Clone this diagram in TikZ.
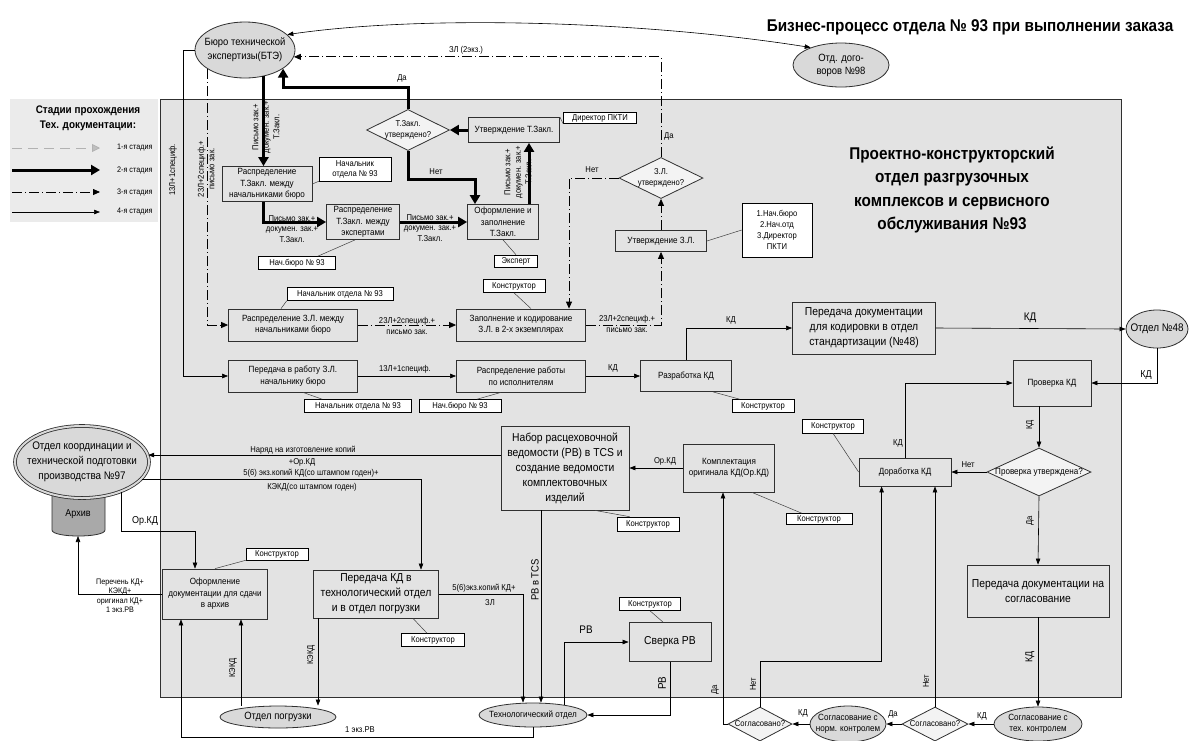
\documentclass[tikz,border=0pt]{standalone}
\usepackage{fontspec}
\setmainfont{Liberation Sans}[FakeStretch=0.9]
\usetikzlibrary{arrows.meta,shapes.geometric,calc}
\definecolor{bg}{HTML}{E3E3E3}
\definecolor{legbg}{HTML}{EBEBEB}
\definecolor{ellf}{HTML}{D9D9D9}
\definecolor{edge}{HTML}{303030}
\definecolor{archf}{HTML}{A9A9A9}
\definecolor{decf}{HTML}{F3F3F3}
\newcommand{\myfs}[2]{\fontsize{#1}{#2}\selectfont}
\tikzset{
  box/.style={draw=edge, fill=bg, line width=0.8pt, align=center, inner sep=1pt, font=\myfs{9}{11.5}},
  bigbox/.style={box, font=\myfs{11.5}{15}},
  lab/.style={draw=black, fill=white, line width=0.6pt, inner sep=1pt, align=center, font=\myfs{8.5}{10},
     path picture={\draw[line width=1.5pt] (path picture bounding box.north west) -- (path picture bounding box.north east);}},
  dec/.style={diamond, draw=edge, fill=decf, line width=0.8pt, inner sep=0pt},
  ell/.style={ellipse, draw=edge, fill=ellf, line width=0.8pt, inner sep=0pt},
  intext/.style n args={3}{label={[align=center,inner sep=0pt,font=\myfs{#1}{#2}]center:{#3}}},
  a4/.style={draw=black, line width=0.6pt, -{Triangle[length=6pt,width=4.5pt]}},
  a2/.style={draw=black, line width=3pt, -{Triangle[length=9pt,width=10pt]}},
  a3/.style={draw=black, line width=0.8pt, dash pattern=on 10pt off 3pt on 1pt off 3pt, -{Triangle[length=7pt,width=6pt]}},
  a1/.style={draw=gray!60, line width=0.8pt, dash pattern=on 10pt off 6pt, -{Triangle[length=8pt,width=8pt,fill=gray!50]}},
  conn/.style={draw=black!75, line width=0.5pt},
  al/.style={font=\myfs{8.5}{10.5}, align=center, inner sep=0pt},
}
\begin{document}
\begin{tikzpicture}[x=1pt,y=-1pt]
\useasboundingbox (0,0) rectangle (1190,740);
\fill[white] (0,0) rectangle (1190,740);
% department area
\draw[fill=bg, draw=edge, line width=0.8pt] (160,99) rectangle (1121,697);
% legend
\fill[legbg] (10,99) rectangle (158,222);
\node[font=\bfseries\myfs{11}{15}, align=center] (legt) at (88,118) {Стадии прохождения\\Тех. документации:};
\coordinate (l1a) at (12,148); \coordinate (l1b) at (100,148);
\coordinate (l2a) at (12,170); \coordinate (l2b) at (100,170);
\coordinate (l3a) at (12,192); \coordinate (l3b) at (100,192);
\coordinate (l4a) at (12,212); \coordinate (l4b) at (100,212);
\draw[a1] (l1a) -- (l1b);
\draw[a2] (l2a) -- (l2b);
\draw[a3] (l3a) -- (l3b);
\draw[a4] (l4a) -- (l4b);
\node[al, font=\myfs{8}{10}, anchor=west] (lt1) at (117,148) {1-я стадия};
\node[al, font=\myfs{8}{10}, anchor=west] (lt2) at (117,170) {2-я стадия};
\node[al, font=\myfs{8}{10}, anchor=west] (lt3) at (117,192) {3-я стадия};
\node[al, font=\myfs{8}{10}, anchor=west] (lt4) at (117,212) {4-я стадия};
% titles
\node[font=\bfseries\myfs{17}{20}] (title) at (970,27) {Бизнес-процесс отдела № 93 при выполнении заказа};
\node[font=\bfseries\myfs{17}{23.5}, align=center] (dept) at (952,190) {Проектно-конструкторский\\отдел разгрузочных\\комплексов и сервисного\\обслуживания №93};
% archive
\draw[fill=archf, draw=edge, line width=0.8pt] (52,490) -- (52,530) .. controls (52,538) and (105,538) .. (105,530) -- (105,490);
\node[font=\myfs{10}{12}] (arch) at (78,514) {Архив};
\coordinate (archb) at (78,536);
% nodes
\node[ell, minimum width=100, minimum height=56, intext={10.5}{14}{Бюро технической\\экспертизы(БТЭ)}] (btz) at (245,50) {};
\node[ell, minimum width=96, minimum height=44, intext={10.5}{13}{Отд. дого-\\воров №98}] (dog) at (841,65) {};
\node[dec, minimum width=83, minimum height=41, intext={8.5}{11}{Т.Закл.\\утверждено?}] (tzok) at (408,130) {};
\node[box, minimum width=91, minimum height=25] (utz) at (514,130) {Утверждение Т.Закл.};
\node[lab, minimum width=73, minimum height=11] (dirp) at (600,118) {Директор ПКТИ};
\node[box, minimum width=71, minimum height=35] (oform) at (503,222) {Оформление и\\заполнение\\Т.Закл.};
\node[lab, minimum width=43, minimum height=12] (expert) at (516,261) {Эксперт};
\node[box, minimum width=90, minimum height=35] (rtz) at (267,184) {Распределение\\Т.Закл. между\\начальниками бюро};
\node[lab, minimum width=72, minimum height=24] (nach1) at (355,169) {Начальник\\отдела № 93};
\node[box, minimum width=73, minimum height=35] (rte) at (363,222) {Распределение\\Т.Закл. между\\экспертами};
\node[lab, minimum width=77, minimum height=13] (nb1) at (297,263) {Нач.бюро № 93};
\node[box, minimum width=129, minimum height=32] (rzl) at (293,325) {Распределение З.Л. между\\начальниками бюро};
\node[lab, minimum width=106, minimum height=13] (nach2) at (340,294) {Начальник отдела № 93};
\node[box, minimum width=129, minimum height=32] (zap) at (521,325) {Заполнение и кодирование\\З.Л. в 2-х экземплярах};
\node[lab, minimum width=62, minimum height=13] (kon1) at (514,286) {Конструктор};
\node[dec, minimum width=84, minimum height=41, intext={8.5}{11}{З.Л.\\утверждено?}] (zlok) at (661,178) {};
\node[box, minimum width=91, minimum height=21] (uzl) at (661,241) {Утверждение З.Л.};
\node[lab, minimum width=70, minimum height=54, font=\myfs{8.5}{11}] (l3) at (777,230) {1.Нач.бюро\\2.Нач.отд\\3.Директор\\ПКТИ};
\node[box, minimum width=129, minimum height=32] (pzl) at (293,376) {Передача в работу З.Л.\\начальнику бюро};
\node[lab, minimum width=107, minimum height=13] (nach3) at (358,406) {Начальник отдела № 93};
\node[box, minimum width=129, minimum height=32] (rrab) at (521,376) {Распределение работы\\по исполнителям};
\node[lab, minimum width=82, minimum height=13] (nb2) at (460,406) {Нач.бюро № 93};
\node[box, minimum width=91, minimum height=31] (rkd) at (686,376) {Разработка КД};
\node[lab, minimum width=62, minimum height=13] (kon2) at (763,406) {Конструктор};
\node[bigbox, minimum width=143, minimum height=52] (pdk) at (864,328) {Передача документации\\для кодировки в отдел\\стандартизации (№48)};
\node[ell, minimum width=62, minimum height=38, intext={11}{13}{Отдел №48}] (o48) at (1157,329) {};
\node[box, minimum width=78, minimum height=46] (pkd) at (1052,383) {Проверка КД};
\node[dec, minimum width=104, minimum height=48, intext={9}{11}{Проверка утверждена?}] (pkok) at (1039,472) {};
\node[box, minimum width=92, minimum height=28] (dkd) at (905,472) {Доработка КД};
\node[lab, minimum width=61, minimum height=14] (kon3) at (833,426) {Конструктор};
\node[bigbox, minimum width=142, minimum height=52] (psog) at (1038,591) {Передача документации на\\согласование};
\node[ell, minimum width=88, minimum height=34, intext={9}{11.5}{Согласование с\\тех. контролем}] (stech) at (1038,724) {};
\node[dec, minimum width=66, minimum height=34, intext={8.5}{10}{Согласовано?}] (sog2) at (935,724) {};
\node[ell, minimum width=76, minimum height=36, intext={9}{11.5}{Согласование с\\норм. контролем}] (snorm) at (848,724) {};
\node[dec, minimum width=64, minimum height=34, intext={8.5}{10}{Согласовано?}] (sog1) at (760,724) {};
\node[box, minimum width=91, minimum height=48] (kompl) at (729,468) {Комплектация\\оригинала КД(Ор.КД)};
\node[lab, minimum width=66, minimum height=11] (kon4) at (819,519) {Конструктор};
\node[bigbox, minimum width=128, minimum height=84] (nabor) at (565,468) {Набор расцеховочной\\ведомости (РВ) в TCS и\\создание ведомости\\комплектовочных\\изделий};
\node[lab, minimum width=62, minimum height=14] (kon5) at (648,524) {Конструктор};
\node[ell, minimum width=108, minimum height=24, intext={9}{11}{Технологический отдел}] (tech) at (533,715) {};
\node[ell, minimum width=134, minimum height=72, double=ellf, double distance=2pt, intext={11}{15}{Отдел координации и\\технической подготовки\\производства №97}] (okp) at (82,462) {};
\node[box, minimum width=105, minimum height=50] (oarch) at (215,594) {Оформление\\документации для сдачи\\в архив};
\node[lab, minimum width=62, minimum height=12] (kon6) at (277,554) {Конструктор};
\node[bigbox, minimum width=125, minimum height=48] (pkdt) at (376,594) {Передача КД в\\технологический отдел\\и в отдел погрузки};
\node[lab, minimum width=63, minimum height=13] (kon7) at (433,640) {Конструктор};
\node[ell, minimum width=116, minimum height=22, intext={10.5}{12}{Отдел погрузки}] (pogr) at (278,717) {};
\node[bigbox, minimum width=82, minimum height=39] (sverka) at (670,642) {Сверка РВ};
\node[lab, minimum width=61, minimum height=13] (kon8) at (650,604) {Конструктор};
% helper coordinates
\coordinate (kx) at ($(oarch.south)+(26,0)$);
\coordinate (ox2) at ($(oarch.south)+(-34,0)$);
\coordinate (px1) at ($(pkdt.south)+(-58,0)$);
\coordinate (tx1) at ($(tech.north)+(-10,0)$);
\coordinate (tx2) at ($(tech.north)+(8,0)$);
\coordinate (oxr) at ($(oarch.north)+(-20,0)$);
\coordinate (pkx) at ($(pkdt.north)+(45,0)$);
\coordinate (dkx) at ($(dkd.south west)+(23,0)$);
\coordinate (kmx) at ($(kompl.south)+(-6,0)$);
\coordinate (ofx) at ($(oform.north)+(-28,0)$);
\coordinate (ofx2) at ($(oform.north)+(26,0)$);
\coordinate (zpx) at ($(zap.north)+(48,0)$);
\coordinate (rtx) at ($(rtz.south)+(-4,0)$);
\coordinate (pzx) at ($(pzl.west)+(-45,0)$);
% connectors
\draw[line width=0.6pt, {Triangle[length=6pt,width=4.5pt]}-{Triangle[length=6pt,width=4.5pt]}] (btz.20) .. controls (430,14) and (650,22) .. (dog.150);
\draw[a3] (zlok.north) |- (btz.-8);
\draw[a2] (tzok.north) -- (tzok.north |- 0,87) -| (btz.-26);
\draw[a2] (utz.west) -- (tzok.east);
\draw[a2] (tzok.south) -- (tzok.south |- 0,179) -| (ofx);
\draw[a2] (ofx2) -- (ofx2 |- utz.south);
\draw[a2] (btz.-55) -- (btz.-55 |- rtz.north);
\draw[a2] (rtx) |- (rte.west);
\draw[a2] (rte.east) -- (oform.west);
\draw[a3] (btz.-153) |- (rzl.west);
\draw[a4] (btz.west) -| (pzx) -- (pzl.west);
\draw[a3] (rzl.east) -- (zap.west);
\draw[a3] (zlok.west) -| (zpx);
\draw[a3] (uzl.north) -- (zlok.south);
\draw[a3] (zap.east) -| (uzl.south);
\draw[a4] (pzl.east) -- (rrab.west);
\draw[a4] (rrab.east) -- (rkd.west);
\draw[a4] (rkd.north) |- (pdk.west);
\draw[a4] (pdk.east) -- (o48.west);
\draw[a4] (o48.south) |- (pkd.east);
\draw[a4] (pkok.north |- pkd.south) -- (pkok.north);
\draw[a4] (pkok.west) -- (dkd.east);
\draw[a4] (dkd.north) |- (pkd.west);
\draw[a4] (pkok.south) -- (psog.north);
\draw[a4] (psog.south) -- (stech.north);
\draw[a4] (stech.west) -- (sog2.east);
\draw[a4] (sog2.north) -- (sog2.north |- dkd.south);
\draw[a4] (sog2.west) -- (snorm.east);
\draw[a4] (snorm.west) -- (sog1.east);
\draw[a4] (sog1.north) -- (sog1.north |- 0,661) -| (dkx);
\draw[a4] (sog1.west) -| (kmx);
\draw[a4] (kompl.west) -- (nabor.east);
\draw[a4] (nabor.west |- okp.6) -- (okp.6);
\draw[a4] (okp.-16) -| (pkx);
\draw[a4] (okp.-37) -- (okp.-37 |- 0,531) -| (oxr);
\draw[a4] (oarch.west) -| (archb);
\draw[a4] (kx |- pogr.north) -- (kx);
\draw[a4] (tech.south) -- (tech.south |- 0,737) -| (ox2);
\draw[a4] (px1) -- (px1 |- pogr.north);
\draw[a4] (pkdt.east) -| (tx1);
\draw[a4] (tx2 |- nabor.south) -- (tx2);
\draw[a4] (tech.18) |- (sverka.west);
\draw[a4] (sverka.south) |- (tech.east);
% label connectors
\draw[conn] (utz.north east) -- (dirp.south west);
\draw[conn] (rtz.east) -- (nach1.south west);
\draw[conn] ($(rte.south)+(-8,0)$) -- ($(nb1.north east)+(-18,0)$);
\draw[conn] (oform.south) -- (expert.north);
\draw[conn] (nach2.south west) -- ($(rzl.north)+(-12,0)$);
\draw[conn] (kon1.south) -- ($(zap.north)+(10,0)$);
\draw[conn] (uzl.east) -- (l3.west);
\draw[conn] ($(pzl.south)+(10,0)$) -- ($(nach3.north west)+(18,0)$);
\draw[conn] ($(rrab.south)+(-20,0)$) -- ($(nb2.north)+(17,0)$);
\draw[conn] ($(rkd.south)+(27,0)$) -- ($(kon2.north west)+(8,0)$);
\draw[conn] (kon3.south) -- (dkd.west);
\draw[conn] ($(kompl.south)+(23,0)$) -- ($(kon4.north west)+(16,0)$);
\draw[conn] ($(nabor.south)+(30,0)$) -- ($(kon5.north west)+(13,0)$);
\draw[conn] (oarch.north) -- (kon6.south west);
\draw[conn] ($(pkdt.south)+(37,0)$) -- ($(kon7.north)+(-6,0)$);
\draw[conn] (kon8.south) -- ($(sverka.north)+(-7,0)$);
% connector labels
\node[al] (tzl2) at (466,50) {ЗЛ (2экз.)};
\node[al] (tda1) at (402,78) {Да};
\node[al, anchor=west] (tda2) at (664,136) {Да};
\node[al] (tnet1) at (436,172) {Нет};
\node[al, rotate=90] (tpis1) at (518,172) {Письмо зак.+\\докумен. зак.+\\Т.Закл.};
\node[al, rotate=90] (tpis2) at (266,127) {Письмо зак.+\\докумен. зак.+\\Т.Закл.};
\node[al] (tpis3) at (292,229) {Письмо зак.+\\докумен. зак.+\\Т.Закл.};
\node[al] (tpis4) at (430,228) {Письмо зак.+\\докумен. зак.+\\Т.Закл.};
\node[al, rotate=90] (t13a) at (173,170) {13Л+1специф.};
\node[al, rotate=90] (t23a) at (206,169) {23Л+2специф.+\\письмо зак.};
\node[al] (t23b) at (407,326) {23Л+2специф.+\\письмо зак.};
\node[al] (t23c) at (627,324) {23Л+2специф.+\\письмо зак.};
\node[al] (tnet2) at (592,170) {Нет};
\node[al] (t13b) at (405,369) {13Л+1специф.};
\node[al] (tkd1) at (613,368) {КД};
\node[al] (tkd2) at (731,320) {КД};
\node[al, font=\myfs{11}{13}] (tkd3) at (1030,318) {КД};
\node[al, font=\myfs{10}{12}] (tkd4) at (1146,375) {КД};
\node[al, rotate=90] (tkd5) at (1030,425) {КД};
\node[al] (tnet3) at (968,465) {Нет};
\node[al] (tkd6) at (898,443) {КД};
\node[al, rotate=90] (tda3) at (1030,521) {Да};
\node[al, rotate=90, font=\myfs{10}{12}] (tkd7) at (1030,657) {КД};
\node[al] (tkd8) at (982,716) {КД};
\node[al, rotate=90] (tnet4) at (926,681) {Нет};
\node[al] (tda4) at (893,714) {Да};
\node[al] (tkd9) at (803,713) {КД};
\node[al, rotate=90] (tnet5) at (753,684) {Нет};
\node[al, rotate=90] (tda5) at (715,690) {Да};
\node[al] (tor1) at (665,461) {Ор.КД};
\node[al] (tnar) at (303,450) {Наряд на изготовление копий};
\node[al] (tnar2) at (302,462) {+Ор.КД};
\node[al] (t56a) at (311,473) {5(6) экз.копий КД(со штампом годен)+};
\node[al] (t56b) at (312,487) {КЭКД(со штампом годен)};
\node[al, font=\myfs{10}{12}] (tor2) at (145,521) {Ор.КД};
\node[al, font=\myfs{8}{9.5}] (tper) at (120,596) {Перечень КД+\\КЭКД+\\оригинал КД+\\1 экз.РВ};
\node[al, rotate=90] (tkekd1) at (233,668) {КЭКД};
\node[al] (t1ekz) at (360,730) {1 экз.РВ};
\node[al, rotate=90] (tkekd2) at (311,655) {КЭКД};
\node[al] (t56c) at (484,588) {5(6)экз.копий КД+};
\node[al] (tzl) at (490,603) {ЗЛ};
\node[al, rotate=90, font=\myfs{10.5}{12}] (trvtcs) at (535,580) {РВ в TCS};
\node[al, font=\myfs{11}{13}] (trv1) at (586,630) {РВ};
\node[al, rotate=90, font=\myfs{11}{13}] (trv2) at (662,683) {РВ};
\end{tikzpicture}
\end{document}
